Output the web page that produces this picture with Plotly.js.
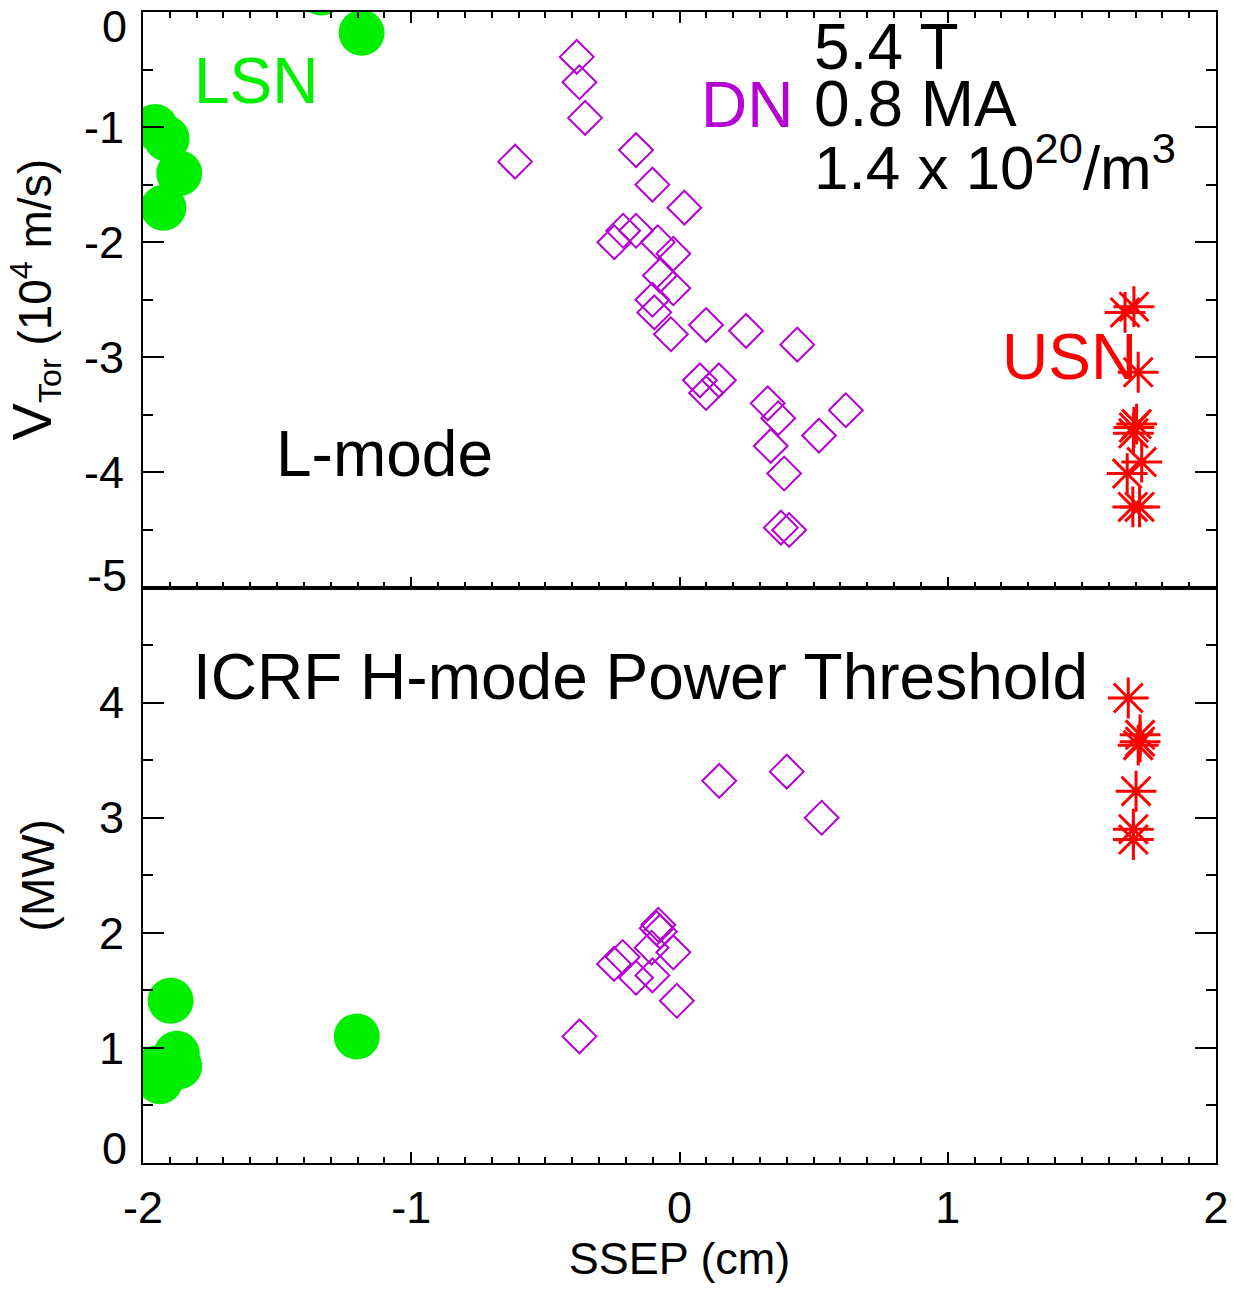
<!DOCTYPE html>
<html>
<head>
<meta charset="utf-8">
<script src="https://cdn.plot.ly/plotly-3.0.1.min.js"></script>
<style>html,body{margin:0;padding:0;background:#fff;}</style>
</head>
<body>
<div id="chart" style="width:1241px;height:1289px;"></div>
<script>
// ---- Data ----
// Top panel: toroidal rotation velocity V_Tor (10^4 m/s) vs SSEP (cm)
const lsnTopX = [-1.334, -1.185, -1.955, -1.912, -1.865, -1.924];
const lsnTopY = [0.17, -0.18, -1.00, -1.10, -1.40, -1.70];

const dnTopX = [-0.383, -0.373, -0.352, -0.613, -0.162, -0.101, 0.018, -0.210, -0.162, -0.243,
                -0.081, -0.023, -0.073, -0.023, -0.101, -0.094, -0.032, 0.099, 0.248, 0.439,
                0.076, 0.147, 0.099, 0.329, 0.368, 0.620, 0.340, 0.520, 0.390, 0.378, 0.409];
const dnTopY = [-0.39, -0.61, -0.92, -1.30, -1.20, -1.50, -1.70, -1.90, -1.90, -2.00,
                -2.00, -2.10, -2.29, -2.40, -2.50, -2.61, -2.80, -2.72, -2.77, -2.89,
                -3.20, -3.20, -3.31, -3.40, -3.53, -3.46, -3.77, -3.68, -4.01, -4.48, -4.50];

const usnTopX = [1.661, 1.694, 1.710, 1.704, 1.692, 1.694, 1.723, 1.669, 1.690, 1.715];
const usnTopY = [-2.61, -2.56, -3.13, -3.58, -3.66, -3.61, -3.91, -4.01, -4.30, -4.30];

// Bottom panel: ICRF H-mode power threshold (MW) vs SSEP (cm)
const lsnBotX = [-1.897, -1.203, -1.874, -1.865, -1.937, -1.950];
const lsnBotY = [1.41, 1.10, 0.95, 0.84, 0.71, 0.82];

const dnBotX = [0.148, 0.400, 0.530, -0.079, -0.085, -0.073, -0.104, -0.023, -0.212, -0.244,
                -0.162, -0.101, -0.010, -0.373];
const dnBotY = [3.32, 3.40, 3.00, 2.07, 2.04, 2.01, 1.87, 1.83, 1.79, 1.73,
                1.61, 1.63, 1.41, 1.10];

const usnBotX = [1.673, 1.717, 1.717, 1.710, 1.702, 1.692, 1.692];
const usnBotY = [4.04, 3.72, 3.66, 3.63, 3.23, 2.90, 2.81];

// Tick values and labels (hyphen-minus as in the reference)
const xTickVals = [-2, -1, 0, 1, 2];
const xTickText = ['-2', '-1', '0', '1', '2'];
const topTickVals = [-1, -2, -3, -4];
const topTickText = ['-1', '-2', '-3', '-4'];
const topEdgeVals = [0, -5];          // edge labels of the top panel, nudged inward
const topEdgeText = ['0', '-5'];
const botTickVals = [1, 2, 3, 4];
const botTickText = ['1', '2', '3', '4'];
const botEdgeVals = [0];
const botEdgeText = ['0'];

// ---- Styles ----
const GREEN = 'rgb(0,240,0)';
const PURPLE = 'rgb(180,0,210)';
const RED = 'rgb(255,0,0)';
const FONT = 'Liberation Sans, Arial, Helvetica, sans-serif';

const circ = {symbol: 'circle', size: 46, color: GREEN, line: {width: 0}};
const diam = {symbol: 'diamond-open', size: 26, color: PURPLE, line: {width: 2, color: PURPLE}};
const star = {symbol: 'asterisk-open', size: 34, color: RED, line: {width: 3, color: RED}};

const traces = [
  {x: lsnTopX, y: lsnTopY, xaxis: 'x2', yaxis: 'y2', type: 'scatter', mode: 'markers', marker: circ, name: 'LSN'},
  {x: dnTopX, y: dnTopY, xaxis: 'x2', yaxis: 'y2', type: 'scatter', mode: 'markers', marker: diam, name: 'DN'},
  {x: usnTopX, y: usnTopY, xaxis: 'x2', yaxis: 'y2', type: 'scatter', mode: 'markers', marker: star, name: 'USN'},
  {x: lsnBotX, y: lsnBotY, xaxis: 'x', yaxis: 'y', type: 'scatter', mode: 'markers', marker: circ, name: 'LSN'},
  {x: dnBotX, y: dnBotY, xaxis: 'x', yaxis: 'y', type: 'scatter', mode: 'markers', marker: diam, name: 'DN'},
  {x: usnBotX, y: usnBotY, xaxis: 'x', yaxis: 'y', type: 'scatter', mode: 'markers', marker: star, name: 'USN'}
];

const tickFont = {family: FONT, size: 45, color: '#000'};
const baseX = {
  range: [-2, 2], tickmode: 'array', tickvals: xTickVals, ticktext: xTickText,
  ticks: 'inside', ticklen: 11, tickwidth: 2, tickcolor: '#000',
  minor: {dtick: 0.1, tick0: 0, ticks: 'inside', ticklen: 6, tickwidth: 2, tickcolor: '#000'},
  showline: true, linewidth: 2, linecolor: '#000',
  showgrid: false, zeroline: false, tickfont: tickFont
};
const baseY = {
  tickmode: 'array', ticks: 'inside', ticklen: 21, tickwidth: 2, tickcolor: '#000',
  minor: {dtick: 0.5, tick0: 0, ticks: 'inside', ticklen: 10, tickwidth: 2, tickcolor: '#000'},
  showline: true, linewidth: 2, linecolor: '#000', mirror: 'allticks',
  showgrid: false, zeroline: false, tickfont: tickFont, ticklabelstandoff: 8
};

const annFont = (c) => ({family: FONT, size: 64, color: c});
const annotations = [
  {text: 'LSN', x: -1.576, y: -0.60, xref: 'x2', yref: 'y2', showarrow: false, font: annFont(GREEN), xanchor: 'center', yanchor: 'middle'},
  {text: 'DN', x: 0.431, y: -0.81, xref: 'x2', yref: 'y2', showarrow: false, font: annFont(PURPLE), xanchor: 'right', yanchor: 'middle'},
  {text: '5.4 T', x: 0.495, y: -0.30, xref: 'x2', yref: 'y2', showarrow: false, font: annFont('#000'), xanchor: 'left', yanchor: 'middle'},
  {text: '0.8 MA', x: 0.495, y: -0.80, xref: 'x2', yref: 'y2', showarrow: false, font: annFont('#000'), xanchor: 'left', yanchor: 'middle'},
  {text: '1.4 x 10<sup>20</sup>/m<sup>3</sup>', x: 0.495, y: -1.31, xref: 'x2', yref: 'y2', showarrow: false, font: {family: FONT, size: 62, color: '#000'}, xanchor: 'left', yanchor: 'middle'},
  {text: 'USN', x: 1.452, y: -3.00, xref: 'x2', yref: 'y2', showarrow: false, font: annFont(RED), xanchor: 'center', yanchor: 'middle'},
  {text: 'L-mode', x: -1.10, y: -3.84, xref: 'x2', yref: 'y2', showarrow: false, font: annFont('#000'), xanchor: 'center', yanchor: 'middle'},
  {text: 'ICRF H-mode Power Threshold', x: -0.147, y: 4.22, xref: 'x', yref: 'y', showarrow: false, font: annFont('#000'), xanchor: 'center', yanchor: 'middle'}
];
// Edge tick labels (shifted inward as in the reference)
topEdgeVals.forEach((v, i) => annotations.push({
  text: topEdgeText[i], x: 0, y: v, xref: 'paper', yref: 'y2', showarrow: false,
  font: tickFont, xanchor: 'right', yanchor: 'middle', xshift: -14, yshift: v === 0 ? -14 : 12
}));
botEdgeVals.forEach((v, i) => annotations.push({
  text: botEdgeText[i], x: 0, y: v, xref: 'paper', yref: 'y', showarrow: false,
  font: tickFont, xanchor: 'right', yanchor: 'middle', xshift: -14, yshift: 15
}));

const layout = {
  width: 1241, height: 1289,
  margin: {l: 143, r: 25, t: 12, b: 126},
  paper_bgcolor: '#fff', plot_bgcolor: '#fff',
  showlegend: false,
  font: {family: FONT, color: '#000'},
  xaxis: Object.assign({}, baseX, {
    anchor: 'y', mirror: true, ticklabelstandoff: 4,
    title: {text: 'SSEP (cm)', font: {family: FONT, size: 45, color: '#000'}, standoff: 6}
  }),
  xaxis2: Object.assign({}, baseX, {
    anchor: 'y2', matches: 'x', mirror: 'allticks', showticklabels: false
  }),
  yaxis: Object.assign({}, baseY, {
    domain: [0, 0.5], range: [0, 5], tickvals: botTickVals, ticktext: botTickText,
    title: {text: '(MW)', font: {family: FONT, size: 46, color: '#000'}, standoff: 30}
  }),
  yaxis2: Object.assign({}, baseY, {
    domain: [0.5, 1], range: [-5, 0], tickvals: topTickVals, ticktext: topTickText, anchor: 'x2',
    title: {text: '<span style="font-size:56px">V</span><sub>Tor</sub> (10<sup>4</sup> m/s)', font: {family: FONT, size: 46, color: '#000'}, standoff: 20}
  }),
  annotations: annotations
};

Plotly.newPlot('chart', traces, layout, {displayModeBar: false, staticPlot: true});
</script>
</body>
</html>
